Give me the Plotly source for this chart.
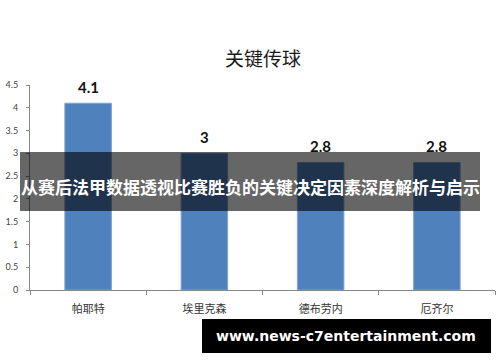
import plotly.graph_objects as go

categories = ["帕耶特", "埃里克森", "德布劳内", "厄齐尔"]
values = [4.1, 3, 2.8, 2.8]
y_ticks = [0, 0.5, 1, 1.5, 2, 2.5, 3, 3.5, 4, 4.5]
y_tick_labels = ["0", "0.5", "1", "1.5", "2", "2.5", "3", "3.5", "4", "4.5"]
chart_title = "关键传球"
overlay_text = "从赛后法甲数据透视比赛胜负的关键决定因素深度解析与启示"
watermark = "www.news-c7entertainment.com"

W, H = 500, 362
L, R, T, B = 30, 5, 85, 72
pw = W - L - R
ph = H - T - B

def px(x):
    return (x - L) / pw

def py(y):
    return (H - B - y) / ph

fig = go.Figure()
fig.add_trace(go.Bar(
    x=categories, y=values,
    marker=dict(color="#4F81BD", line=dict(color="#7FA3CF", width=1)),
    width=0.4,
    hoverinfo="skip",
))

for c, v in zip(categories, values):
    fig.add_annotation(
        x=c, y=v, xref="x", yref="y", text=f"<b>{v:g}</b>",
        showarrow=False, yanchor="bottom", yshift=5,
        font=dict(family="Lato, Noto Sans", size=15, color="#111111"),
    )

fig.add_annotation(
    x=0.5, y=py(57), xref="paper", yref="paper", text=chart_title,
    showarrow=False, xanchor="center", yanchor="middle",
    font=dict(family="Noto Sans CJK SC", size=19, color="#1a1a1a"),
)

# overlay band
fig.add_shape(type="rect", xref="paper", yref="paper",
              x0=px(20), x1=px(480), y0=py(211), y1=py(152),
              fillcolor="rgba(0,0,0,0.6)", line=dict(width=0), layer="above")
fig.add_annotation(
    x=px(250), y=py(186), xref="paper", yref="paper", text=f"<b>{overlay_text}</b>",
    showarrow=False, xanchor="center", yanchor="middle",
    font=dict(family="Noto Sans CJK SC", size=17, color="white"),
)

# watermark box
fig.add_shape(type="rect", xref="paper", yref="paper",
              x0=px(202), x1=px(491), y0=py(353), y1=py(319),
              fillcolor="black", line=dict(width=0), layer="above")
fig.add_annotation(
    x=px(346), y=py(336), xref="paper", yref="paper", text=f"<b>{watermark}</b>",
    showarrow=False, xanchor="center", yanchor="middle",
    font=dict(family="DejaVu Sans", size=14, color="white"),
)

fig.update_layout(
    width=W, height=H,
    margin=dict(l=L, r=R, t=T, b=B, pad=0),
    plot_bgcolor="white", paper_bgcolor="white",
    showlegend=False,
    bargap=0.6,
    xaxis=dict(
        showline=True, linecolor="#868686", linewidth=1,
        ticks="outside", ticklen=4, tickcolor="#868686",
        tickson="boundaries", showgrid=False,
        ticklabelstandoff=9,
        tickfont=dict(family="Noto Sans CJK SC", size=11, color="#333333"),
        fixedrange=True,
    ),
    yaxis=dict(
        range=[0, 4.5], tickvals=y_ticks, ticktext=y_tick_labels,
        showline=True, linecolor="#868686", linewidth=1,
        ticks="outside", ticklen=3, tickcolor="#868686",
        showgrid=False, zeroline=False,
        ticklabelstandoff=6,
        tickfont=dict(family="Lato, Noto Sans", size=9, color="#444444"),
        fixedrange=True,
    ),
)

fig.write_html("out.html")
